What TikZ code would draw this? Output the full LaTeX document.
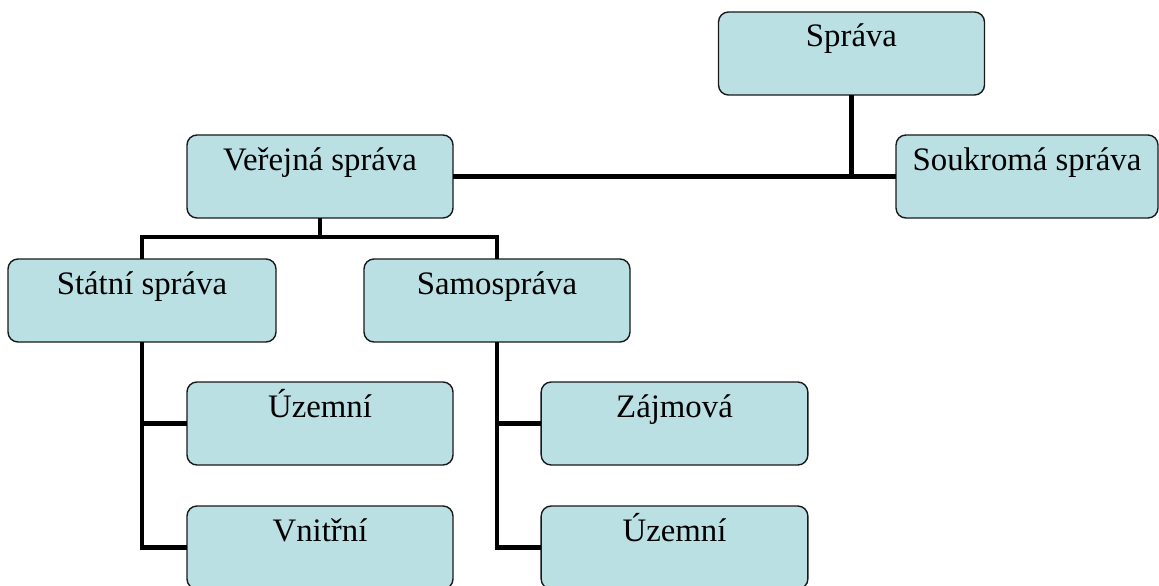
\documentclass[tikz,border=0pt]{standalone}
\usepackage{fontspec}
\setmainfont{Liberation Serif}
\definecolor{boxfill}{RGB}{187,224,227}
\begin{document}
\begin{tikzpicture}[x=0.75pt,y=-0.75pt,
  orgbox/.style={draw=black!90, line width=1.05pt, fill=boxfill, rounded corners=7.5pt,
    inner sep=0pt, outer sep=0pt, minimum width=199.5pt,
    text height=26.25pt, text depth=36pt, anchor=north,
    font=\fontsize{24.6}{29}\selectfont},
  link/.style={line width=3.5pt, black}]
\useasboundingbox (0,0) rectangle (1159,585);
\node[orgbox] (sprava) at (851.5,12) {Správa};
\node[orgbox, minimum width=196.5pt] (soukroma) at (1027,135) {Soukromá správa};
\node[orgbox] (verejna) at (320,135) {Veřejná správa};
\node[orgbox, minimum width=201pt] (statni) at (142,259) {Státní správa};
\node[orgbox] (samo) at (497,259) {Samospráva};
\node[orgbox] (uzemni1) at (320,382) {Územní};
\node[orgbox] (vnitrni) at (320,506) {Vnitřní};
\node[orgbox, minimum width=200pt] (zajmova) at (674.5,382) {Zájmová};
\node[orgbox, minimum width=200pt] (uzemni2) at (674.5,506) {Územní};
\coordinate (bus) at (320,237);
\draw[link] (verejna.east) -- (soukroma.west);
\draw[link] (sprava.south) -- (sprava.south |- verejna.east);
\draw[link] (verejna.south) -- (bus);
\draw[link] (statni.north) |- (bus) -| (samo.north);
\draw[link] (statni.south) |- (vnitrni.west);
\draw[link] (uzemni1.west) -- (uzemni1.west -| statni.south);
\draw[link] (samo.south) |- (uzemni2.west);
\draw[link] (zajmova.west) -- (zajmova.west -| samo.south);
\end{tikzpicture}
\end{document}
